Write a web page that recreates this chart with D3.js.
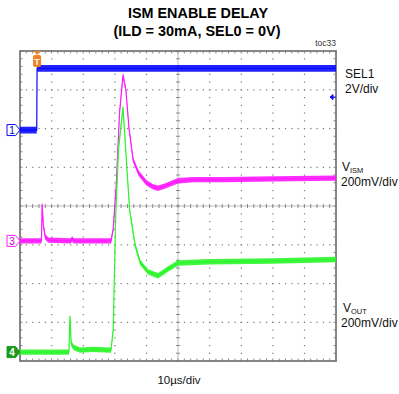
<!DOCTYPE html>
<html>
<head>
<meta charset="utf-8">
<script src="https://d3js.org/d3.v7.min.js"></script>
<style>
  body { margin: 0; background: #fff; }
  text { font-family: "Liberation Sans", Arial, sans-serif; }
</style>
</head>
<body>
<div id="my_dataviz"></div>
<script>

// traces as [time (div), level (div from screen centre)]
var sel1Trace = [[0, 1.96], [0.53, 1.96], [0.54, 3.55], [10, 3.55]];

var vismTrace = [
  [0, -0.90], [0.68, -0.90], [0.70, 0.05], [0.74, -0.50], [0.80, -0.80], [0.90, -0.88],
  [1.60, -0.90], [1.65, -0.85], [1.70, -0.90], [2.88, -0.90], [2.95, -0.60], [3.05, 0.60],
  [3.15, 2.40], [3.26, 3.38], [3.35, 3.00], [3.45, 2.00], [3.58, 1.19], [3.75, 0.85],
  [4.00, 0.60], [4.20, 0.50], [4.37, 0.46], [4.60, 0.52], [5.00, 0.65], [5.50, 0.68],
  [6.50, 0.68], [8.00, 0.70], [10, 0.72]
];

var voutTrace = [
  [0, -3.77], [1.55, -3.77], [1.58, -2.84], [1.62, -3.55], [1.70, -3.65], [1.90, -3.72],
  [2.30, -3.70], [2.88, -3.72], [2.95, -3.20], [3.03, -0.20], [3.12, 1.50], [3.26, 2.55],
  [3.38, 1.00], [3.47, -0.10], [3.64, -1.00], [3.80, -1.45], [4.05, -1.70], [4.37, -1.80],
  [4.70, -1.62], [5.00, -1.47], [6.00, -1.44], [8.00, -1.42], [10, -1.38]
];

var channels = [
  {name: "SEL1", trace: sel1Trace, color: "#0a0aff", band: 3.4, marker: "1", ref: 1.96},
  {name: "VISM", trace: vismTrace, color: "#ff1aff", band: 2.7, marker: "3", ref: -0.90},
  {name: "VOUT", trace: voutTrace, color: "#2cf52c", band: 2.7, marker: "4", ref: -3.77}
];

var width = 399, height = 394;

var svg = d3.select("#my_dataviz")
  .append("svg")
    .attr("width", width)
    .attr("height", height);

var x = d3.scaleLinear().domain([0, 10]).range([20, 336]);
var y = d3.scaleLinear().domain([-4, 4]).range([361, 51]);

// title
svg.append("text")
  .attr("x", 198).attr("y", 18)
  .attr("text-anchor", "middle")
  .style("font-weight", "bold").style("font-size", "15px")
  .attr("textLength", 140).attr("lengthAdjust", "spacingAndGlyphs")
  .text("ISM ENABLE DELAY");
svg.append("text")
  .attr("x", 197).attr("y", 35.5)
  .attr("text-anchor", "middle")
  .style("font-weight", "bold").style("font-size", "15px")
  .attr("textLength", 167).attr("lengthAdjust", "spacingAndGlyphs")
  .text("(ILD = 30mA, SEL0 = 0V)");
svg.append("text")
  .attr("x", 336).attr("y", 46)
  .attr("text-anchor", "end")
  .style("font-size", "8.5px").style("fill", "#333")
  .text("toc33");

// grid
var grid = svg.append("g");
var xMajor = d3.range(1, 10), yMajor = d3.range(-3, 4);
var xMinor = d3.range(0, 50.01).map(function(i){ return i / 5; });
var yMinor = d3.range(-20, 20.01).map(function(i){ return i / 5; });

grid.selectAll(".vdots").data(xMajor.filter(function(d){ return d !== 5; }))
  .enter().append("g")
  .selectAll("rect").data(function(d){ return yMinor.map(function(v){ return [d, v]; }); })
  .enter().append("rect")
    .attr("x", function(d){ return x(d[0]) - 0.5; })
    .attr("y", function(d){ return y(d[1]) - 0.5; })
    .attr("width", 1.2).attr("height", 1.2)
    .style("fill", "#777");

grid.selectAll(".hdots").data(yMajor.filter(function(d){ return d !== 0; }))
  .enter().append("g")
  .selectAll("rect").data(function(d){ return xMinor.map(function(t){ return [t, d]; }); })
  .enter().append("rect")
    .attr("x", function(d){ return x(d[0]) - 0.5; })
    .attr("y", function(d){ return y(d[1]) - 0.5; })
    .attr("width", 1.2).attr("height", 1.2)
    .style("fill", "#777");

// centre cross with minor ticks
grid.append("line")
  .attr("x1", x(0)).attr("x2", x(10)).attr("y1", y(0)).attr("y2", y(0))
  .style("stroke", "#bbb").style("stroke-width", 1);
grid.append("line")
  .attr("x1", x(5)).attr("x2", x(5)).attr("y1", y(-4)).attr("y2", y(4))
  .style("stroke", "#bbb").style("stroke-width", 1);
grid.selectAll(".cxt").data(xMinor).enter().append("line")
  .attr("x1", function(d){ return x(d); }).attr("x2", function(d){ return x(d); })
  .attr("y1", y(0) - 2).attr("y2", y(0) + 2)
  .style("stroke", "#888");
grid.selectAll(".cyt").data(yMinor).enter().append("line")
  .attr("y1", function(d){ return y(d); }).attr("y2", function(d){ return y(d); })
  .attr("x1", x(5) - 2).attr("x2", x(5) + 2)
  .style("stroke", "#888");

// border ticks
grid.selectAll(".bt").data(xMinor).enter().append("line")
  .attr("x1", function(d){ return x(d); }).attr("x2", function(d){ return x(d); })
  .attr("y1", y(4)).attr("y2", y(4) + 2.5)
  .style("stroke", "#888");
grid.selectAll(".bb").data(xMinor).enter().append("line")
  .attr("x1", function(d){ return x(d); }).attr("x2", function(d){ return x(d); })
  .attr("y1", y(-4)).attr("y2", y(-4) - 2.5)
  .style("stroke", "#888");
grid.selectAll(".bl").data(yMinor).enter().append("line")
  .attr("y1", function(d){ return y(d); }).attr("y2", function(d){ return y(d); })
  .attr("x1", x(0)).attr("x2", x(0) + 2.5)
  .style("stroke", "#888");
grid.selectAll(".br").data(yMinor).enter().append("line")
  .attr("y1", function(d){ return y(d); }).attr("y2", function(d){ return y(d); })
  .attr("x1", x(10)).attr("x2", x(10) - 2.5)
  .style("stroke", "#888");

grid.append("rect")
  .attr("x", x(0)).attr("y", y(4))
  .attr("width", x(10) - x(0)).attr("height", y(-4) - y(4))
  .style("fill", "none").style("stroke", "#7a7a7a").style("stroke-width", 1.8);

// traces: a noise band plus a thin centre line
var line = d3.line()
  .x(function(d){ return x(d[0]); })
  .y(function(d){ return y(d[1]); });

channels.forEach(function(ch) {
  var area = d3.area()
    .x(function(d){ return x(d[0]); })
    .y0(function(d){ return y(d[1]) - ch.band; })
    .y1(function(d){ return y(d[1]) + ch.band; });
  svg.append("path")
    .attr("d", area(ch.trace))
    .style("fill", ch.color).style("opacity", 0.9);
  svg.append("path")
    .attr("d", line(ch.trace))
    .style("fill", "none").style("stroke", ch.color).style("stroke-width", 1.2);
});

// channel markers on the left
channels.forEach(function(ch) {
  var cy = y(ch.ref);
  var filled = ch.marker === "4";
  var g = svg.append("g").attr("transform", "translate(0," + cy + ")");
  g.append("path")
    .attr("d", "M7,-5.5 L15.5,-5.5 L20,0 L15.5,5.5 L7,5.5 Z")
    .style("fill", filled ? "#1a9a1a" : "#fff")
    .style("stroke", filled ? "#1a9a1a" : ch.color)
    .style("stroke-width", 1);
  g.append("text")
    .attr("x", 12).attr("y", 3.8)
    .attr("text-anchor", "middle")
    .style("font-size", "10px")
    .style("font-weight", filled ? "bold" : "normal")
    .style("fill", filled ? "#fff" : (ch.marker === "1" ? "#0000cc" : "#cc00cc"))
    .text(ch.marker);
});

// trigger marker
var tg = svg.append("g").attr("transform", "translate(" + x(0.54) + ",0)");
tg.append("path")
  .attr("d", "M-3.5,51 L3.5,51 L0,55 Z")
  .style("fill", "#f08020");
tg.append("rect")
  .attr("x", -4).attr("y", 55).attr("width", 8).attr("height", 12).attr("rx", 2)
  .style("fill", "#f08020");
tg.append("text")
  .attr("x", 0).attr("y", 65)
  .attr("text-anchor", "middle")
  .style("font-size", "9px").style("font-weight", "bold").style("fill", "#fff")
  .text("T");

// trigger level arrow on the right
svg.append("path")
  .attr("d", "M330," + y(2.81) + " L333," + (y(2.81) - 2.5) + " L333," + (y(2.81) + 2.5) + " Z M332," + y(2.81) + " L336," + y(2.81))
  .style("fill", "#0a0aff").style("stroke", "#0a0aff").style("stroke-width", 1);

// right labels
var lab = svg.append("g").style("font-size", "12px").style("fill", "#111");
lab.append("text").attr("x", 345).attr("y", 78).text("SEL1");
lab.append("text").attr("x", 345).attr("y", 93).text("2V/div");

var vism = lab.append("text").attr("x", 342).attr("y", 171);
vism.append("tspan").text("V");
vism.append("tspan").attr("dy", 1.5).style("font-size", "7.5px").text("ISM");
lab.append("text").attr("x", 341).attr("y", 186).text("200mV/div");

var vout = lab.append("text").attr("x", 343).attr("y", 312);
vout.append("tspan").text("V");
vout.append("tspan").attr("dy", 1.5).style("font-size", "7.5px").text("OUT");
lab.append("text").attr("x", 341).attr("y", 327).text("200mV/div");

// time base
svg.append("text")
  .attr("x", 179).attr("y", 384)
  .attr("text-anchor", "middle")
  .style("font-size", "11.5px").style("fill", "#111")
  .text("10\u00b5s/div");

</script>
</body>
</html>
